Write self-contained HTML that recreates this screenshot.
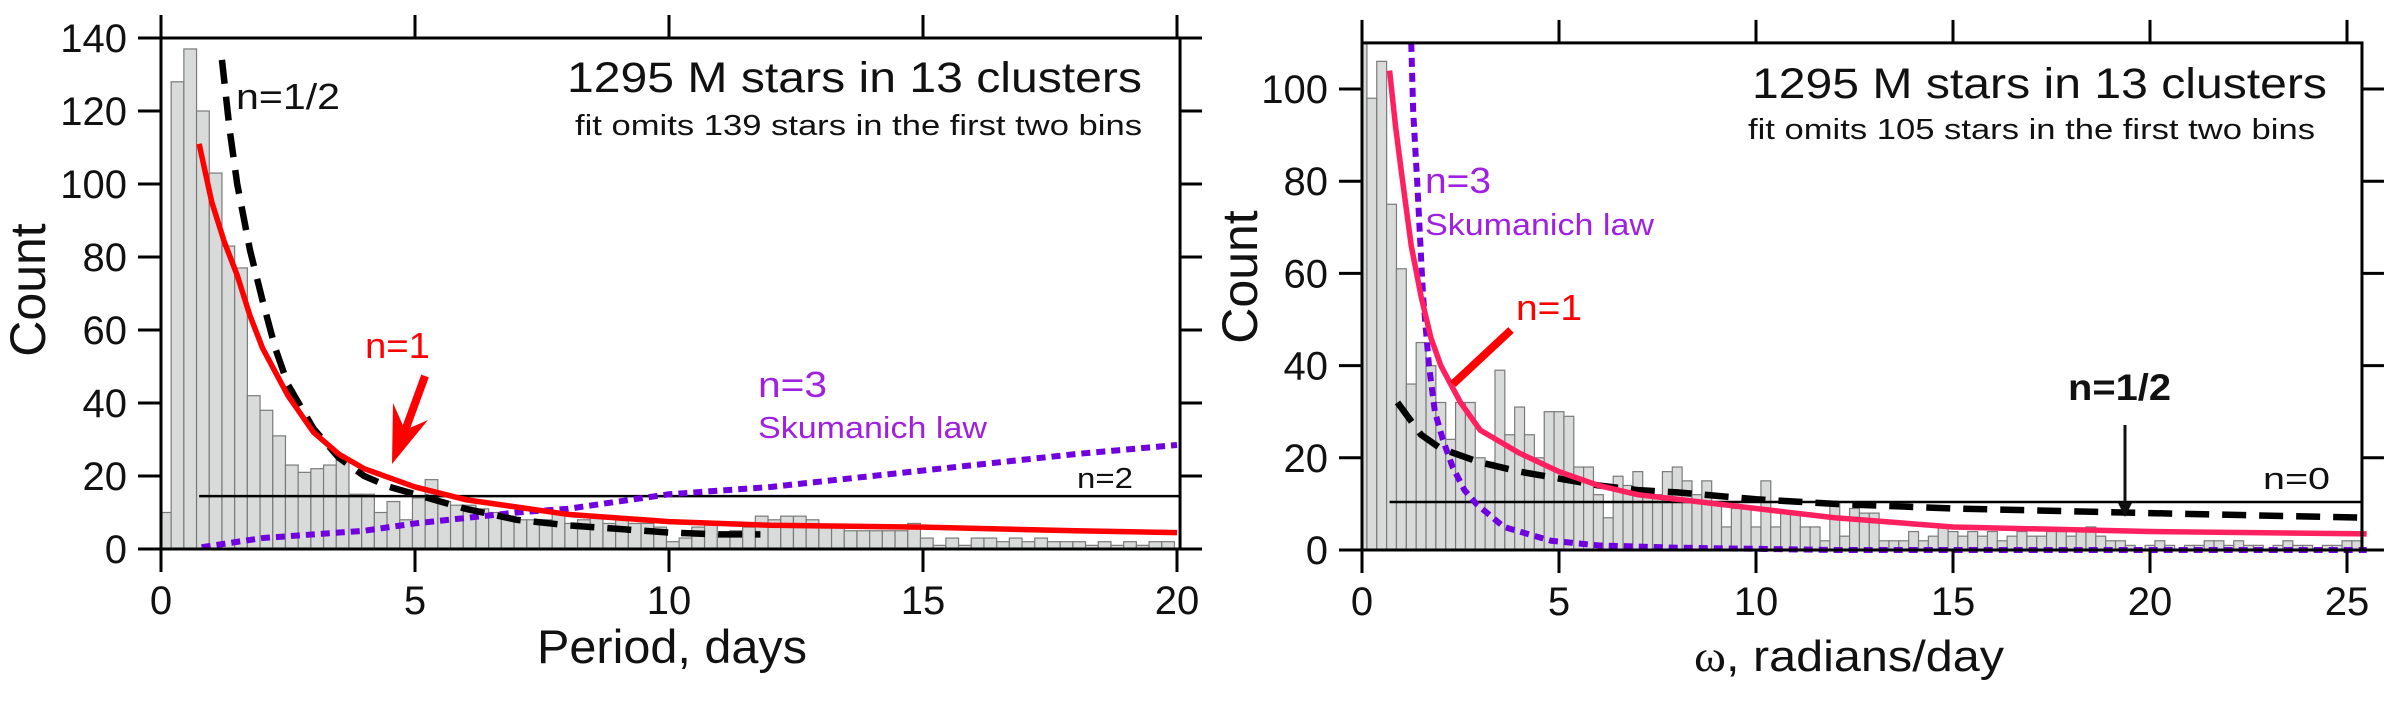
<!DOCTYPE html>
<html><head><meta charset="utf-8"><title>M star rotation histograms</title>
<style>
html,body{margin:0;padding:0;background:#fff;}
svg{display:block;font-family:"Liberation Sans",Arial,sans-serif;}
</style></head>
<body>
<svg id="chart" width="2391" height="702" viewBox="0 0 2391 702" xmlns="http://www.w3.org/2000/svg">
<g id="left"></g>
<g id="right"></g>
</svg>
<script>
// ---------- LEFT PANEL DATA (Period, days) ----------
const leftBinWidth = 0.25;
const leftBinStart = -0.05;
const leftCounts = [10,128,137,120,103,83,77,42,38,31,23,21,22,23,25,15,15,10,13,8,
  14,19,13,12,12,11,10,9,8,8,8,10,7,8,9,7,8,7,7,6,
  2,3,6,7,4,5,6,9,8,9,9,8,6,6,5,5,5,5,5,7,3,1,3,1,3,3,2,3,2,3,2,2,2,1,2,1,2,1,2,2];
const leftXTicks = [0,5,10,15,20];
const leftYTicks = [0,20,40,60,80,100,120,140];
const leftRedX = [0.75,1,1.25,1.5,1.75,2,2.5,3,3.5,4,5,6,7,8,10,12,15,18,20];
const leftRedY = [111,95,84,75,64,55,42,32,26,22,17,13.5,11.5,9.5,7.5,6.5,6,5,4.5];
const leftHalfX = [1.2,1.35,1.5,1.75,2,2.25,2.5,3,3.5,4,4.5,5,6,7,8,9,10,11,11.8];
const leftHalfY = [134,115,100,82,68,55,45,33,25,20,17,15,11,8,6.5,5.5,4.5,4,4];
const leftPurpleX = [0.8,2,3,4,5,6,7,8,9,10,12,14,16,18,20];
const leftPurpleY = [0.5,3,4,5,7,8.5,10,11,13,15,17,20,23,26,28.5];
const leftFlatY = 14.5;

// ---------- RIGHT PANEL DATA (omega, radians/day) ----------
const rightBinWidth = 0.25;
const rightCounts = [110,98,106,75,61,36,45,40,32,24,32,32,20,19,39,25,31,25,20,
  30,30,29,18,18,12,7,16,14,17,12,12,17,18,15,12,15,10,5,9,9,5,15,5,8,8,5,5,2,10,3,9,8,8,2,2,2,4,2,3,5,4,
  3,4,3,4,2,3,4,3,3,4,4,3,4,5,3,2,2,1,0,1,2,1,0,1,1,2,2,1,2,1,1,0,1,2,1,1,0,1,1,2,2];
const rightXTicks = [0,5,10,15,20,25];
const rightYTicks = [0,20,40,60,80,100];
const rightRedX = [0.7,0.85,1,1.25,1.5,1.75,2,2.5,3,4,5,6,7,8,10,12,15,20,25.5];
const rightRedY = [104,92,82,66,55,46,40,32,26,21,17,14,12,11,9,7,5,4,3.5];
const rightHalfX = [0.9,1.5,2,3,4,5,6,7,8,10,12,15,20,25.5];
const rightHalfY = [32,25,22,19,17,15.5,14,13,12.5,11,10,9,8,7];
const rightPurpleX = [1.25,1.3,1.4,1.55,1.7,1.85,2.05,2.3,2.6,2.9,3.6,4.8,6,8,12,25.5];
const rightPurpleY = [110,95,80,55,40,30,24,18,13,10,5,2,1,0.5,0,0];
const rightFlatY = 10.4;

const NS = "http://www.w3.org/2000/svg";
function mk(parent, tag, attrs, text){
  const e = document.createElementNS(NS, tag);
  for (const k in attrs) e.setAttribute(k, attrs[k]);
  if (text !== undefined) e.textContent = text;
  parent.appendChild(e);
  return e;
}

function panel(g, cfg){
  const sx = v => cfg.x0 + v*cfg.kx;
  const sy = v => cfg.y0 - v*cfg.ky;
  cfg.counts.forEach((c,i)=>{
    let a = cfg.binStart + i*cfg.binW, b = a + cfg.binW;
    a = Math.max(a,0); b = Math.min(b,cfg.xMax);
    if (b<=a) return;
    const r = mk(g,'rect',{x:sx(a),y:sy(c),width:sx(b)-sx(a),height:sy(0)-sy(c),fill:'#d9dbdb',stroke:'#7a7a7a','stroke-width':1.2});
    
    
  });
  const fl = mk(g,'line',{x1:sx(cfg.flatX0),x2:sx(cfg.xMax),y1:sy(cfg.flatY),y2:sy(cfg.flatY),stroke:'#000','stroke-width':2.5});
  
  
  const pts = (xs,ys)=>xs.map((x,i)=>sx(x)+','+sy(ys[i])).join(' ');
  const pu = mk(g,'polyline',{points:pts(cfg.purX,cfg.purY),fill:'none',stroke:'#7000e0','stroke-width':6,'stroke-dasharray':'9 6'});
  
  
  const bk = mk(g,'polyline',{points:pts(cfg.halfX,cfg.halfY),fill:'none',stroke:'#000','stroke-width':6.5,'stroke-dasharray':'24 13'});
  
  
  const rd = mk(g,'polyline',{points:pts(cfg.redX,cfg.redY),fill:'none',stroke:cfg.red,'stroke-width':5.5,'stroke-linejoin':'round'});
  
  
  const L = cfg.x0, R = sx(cfg.xMax), T = sy(cfg.yMax), B = sy(0);
  const fr = mk(g,'rect',{x:L,y:T,width:R-L,height:B-T,fill:'none',stroke:'#000','stroke-width':3});
  
  
  cfg.xTicks.forEach(t=>{
    const X = sx(t);
    mk(g,'line',{x1:X,x2:X,y1:B,y2:B+23,stroke:'#000','stroke-width':3});
    mk(g,'line',{x1:X,x2:X,y1:T,y2:T-23,stroke:'#000','stroke-width':3});
    const tl = mk(g,'text',{x:X,y:B+65,'font-size':40,'text-anchor':'middle',fill:'#111'},String(t));
    
    
  });
  cfg.yTicks.forEach(t=>{
    const Y = sy(t);
    mk(g,'line',{x1:L-23,x2:L,y1:Y,y2:Y,stroke:'#000','stroke-width':3});
    mk(g,'line',{x1:R,x2:R+22,y1:Y,y2:Y,stroke:'#000','stroke-width':3});
    const tl = mk(g,'text',{x:L-34,y:Y+14,'font-size':40,'text-anchor':'end',fill:'#111'},String(t));
    
    
  });
}

panel(document.getElementById('left'),{x0:161,kx:50.8,y0:549,ky:3.65,xMax:20.06,yMax:140,counts:leftCounts,binStart:leftBinStart,binW:leftBinWidth,
  flatX0:0.75,flatY:leftFlatY,purX:leftPurpleX,purY:leftPurpleY,halfX:leftHalfX,halfY:leftHalfY,redX:leftRedX,redY:leftRedY,
  red:'#ff0000',xTicks:leftXTicks,yTicks:leftYTicks});

panel(document.getElementById('right'),{x0:1362,kx:39.4,y0:550,ky:4.61,xMax:25.38,yMax:110,counts:rightCounts,binStart:-0.125,binW:rightBinWidth,
  flatX0:0.7,flatY:rightFlatY,purX:rightPurpleX,purY:rightPurpleY,halfX:rightHalfX,halfY:rightHalfY,redX:rightRedX,redY:rightRedY,
  red:'#ff2060',xTicks:rightXTicks,yTicks:rightYTicks});
</script>
<svg style="position:absolute;left:0;top:0" width="2391" height="702" viewBox="0 0 2391 702">
  <text transform="translate(45,290) rotate(-90)" text-anchor="middle" font-size="50" fill="#111">Count</text>
  <text x="537" y="663" font-size="47" textLength="270" lengthAdjust="spacingAndGlyphs" fill="#111">Period, days</text>
  <text x="567" y="92" font-size="43" textLength="575" lengthAdjust="spacingAndGlyphs" fill="#111">1295 M stars in 13 clusters</text>
  <text x="575" y="135" font-size="29" textLength="567" lengthAdjust="spacingAndGlyphs" fill="#111">fit omits 139 stars in the first two bins</text>
  <text x="236" y="109" font-size="36" textLength="104" lengthAdjust="spacingAndGlyphs" fill="#111">n=1/2</text>
  <text x="365" y="358" font-size="36" textLength="65" lengthAdjust="spacingAndGlyphs" fill="#ff0000">n=1</text>
  <line x1="425" y1="376" x2="398" y2="450" stroke="#ff0000" stroke-width="8"/>
  <polygon points="392,464 393,403 405,430 428,420" fill="#ff0000"/>
  <text x="758" y="397" font-size="36" textLength="69" lengthAdjust="spacingAndGlyphs" fill="#a020e0">n=3</text>
  <text x="758" y="438" font-size="31" textLength="229" lengthAdjust="spacingAndGlyphs" fill="#a020e0">Skumanich law</text>
  <text x="1077" y="488" font-size="29" textLength="56" lengthAdjust="spacingAndGlyphs" fill="#111">n=2</text>

  <text transform="translate(1257,277) rotate(-90)" text-anchor="middle" font-size="50" fill="#111">Count</text>
  <text x="1694" y="671" font-size="44" textLength="310" lengthAdjust="spacingAndGlyphs" fill="#111"><tspan font-family="Liberation Serif, serif">ω</tspan>, radians/day</text>
  <text x="1752" y="98" font-size="43" textLength="575" lengthAdjust="spacingAndGlyphs" fill="#111">1295 M stars in 13 clusters</text>
  <text x="1748" y="139" font-size="29" textLength="567" lengthAdjust="spacingAndGlyphs" fill="#111">fit omits 105 stars in the first two bins</text>
  <text x="1425" y="193" font-size="36" textLength="66" lengthAdjust="spacingAndGlyphs" fill="#a020e0">n=3</text>
  <text x="1425" y="235" font-size="31" textLength="229" lengthAdjust="spacingAndGlyphs" fill="#a020e0">Skumanich law</text>
  <text x="1516" y="320" font-size="36" textLength="66" lengthAdjust="spacingAndGlyphs" fill="#ff0000">n=1</text>
  <line x1="1511" y1="330" x2="1453" y2="384" stroke="#ff0000" stroke-width="8"/>
  <text x="2068" y="400" font-size="37" font-weight="bold" textLength="103" lengthAdjust="spacingAndGlyphs" fill="#111">n=1/2</text>
  <line x1="2125" y1="425" x2="2125" y2="505" stroke="#111" stroke-width="3"/>
  <polygon points="2118,503 2132,503 2125,517" fill="#111"/>
  <text x="2263" y="489" font-size="31" textLength="67" lengthAdjust="spacingAndGlyphs" fill="#111">n=0</text>
</svg>
</body></html>
